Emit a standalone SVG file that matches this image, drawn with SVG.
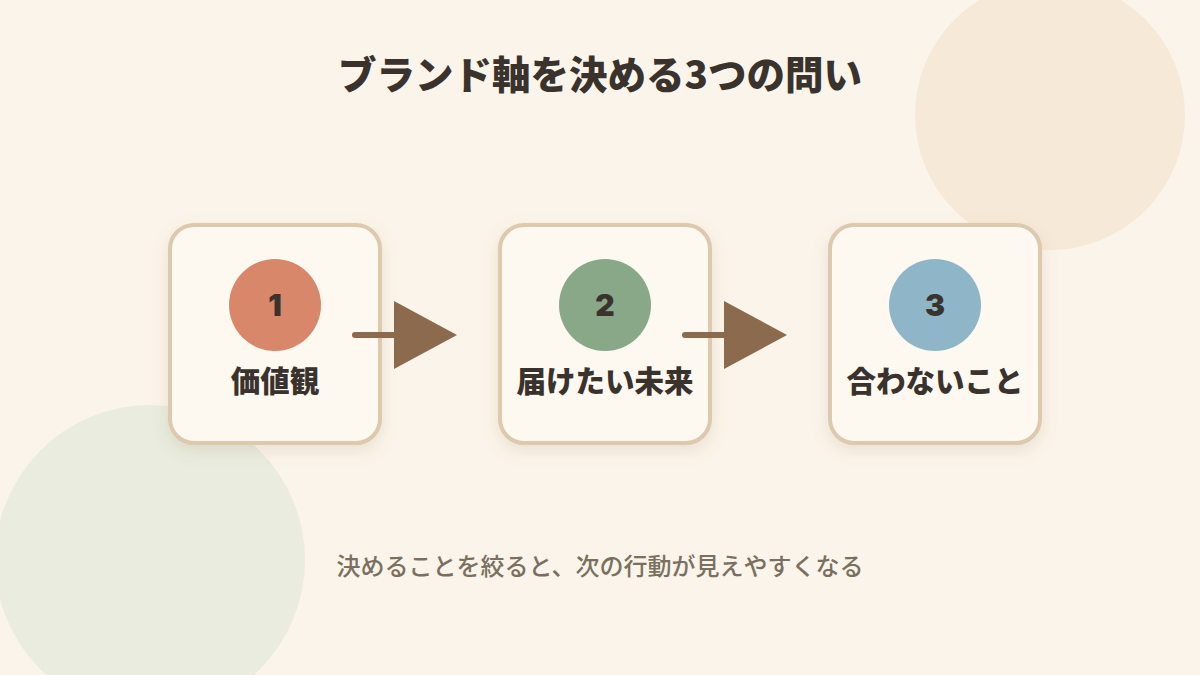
<svg xmlns="http://www.w3.org/2000/svg" width="1200" height="675" viewBox="0 0 1200 675">
<defs>
<filter id="sh" x="-20%" y="-20%" width="140%" height="140%">
<feDropShadow dx="0" dy="6" stdDeviation="8" flood-color="#8b6a4e" flood-opacity="0.15"/>
</filter>
<style>
.box{fill:#fdf8f0;stroke:#dcc9ae;stroke-width:4;filter:url(#sh)}
.num{font-family:Inter,"Noto Sans CJK JP",sans-serif;font-weight:900;font-size:30px;fill:#3a332d;text-anchor:middle}
.lbl{font-family:"Noto Sans CJK JP",sans-serif;font-weight:900;font-size:29.5px;fill:#3a332d;text-anchor:middle}
.ln{stroke:#8b6a4e;stroke-width:6;stroke-linecap:round}
.hd{fill:#8b6a4e}
</style>
</defs>
<rect width="1200" height="675" fill="#fbf4ea"/>
<circle cx="1050" cy="115" r="135" fill="#f7e9d8"/>
<circle cx="150" cy="560" r="155" fill="#e9ecdf"/>
<text x="600" y="89" font-family="'Noto Sans CJK JP',sans-serif" font-weight="900" font-size="38.5" fill="#3a332d" text-anchor="middle">ブランド軸を決める3つの問い</text>
<g id="node1">
<rect class="box" x="170" y="225" width="210" height="218" rx="24"/>
<circle cx="275" cy="305" r="46" fill="#d9876a"/>
<text class="num" x="275" y="316">1</text>
<text class="lbl" x="275" y="392">価値観</text>
</g>
<g id="node2">
<rect class="box" x="500" y="225" width="210" height="218" rx="24"/>
<circle cx="605" cy="305" r="46" fill="#89a888"/>
<text class="num" x="605" y="316">2</text>
<text class="lbl" x="605" y="392">届けたい未来</text>
</g>
<g id="node3">
<rect class="box" x="830" y="225" width="210" height="218" rx="24"/>
<circle cx="935" cy="305" r="46" fill="#8fb5c9"/>
<text class="num" x="935" y="316">3</text>
<text class="lbl" x="935" y="392">合わないこと</text>
</g>
<g id="connectors">
<line class="ln" x1="355" y1="335" x2="398" y2="335"/>
<polygon class="hd" points="394,301 457,335 394,369"/>
<line class="ln" x1="685" y1="335" x2="728" y2="335"/>
<polygon class="hd" points="724,301 787,335 724,369"/>
</g>
<text x="600" y="575" font-family="'Noto Sans CJK JP',sans-serif" font-weight="500" font-size="24" fill="#7a7060" text-anchor="middle">決めることを絞ると、次の行動が見えやすくなる</text>
</svg>
